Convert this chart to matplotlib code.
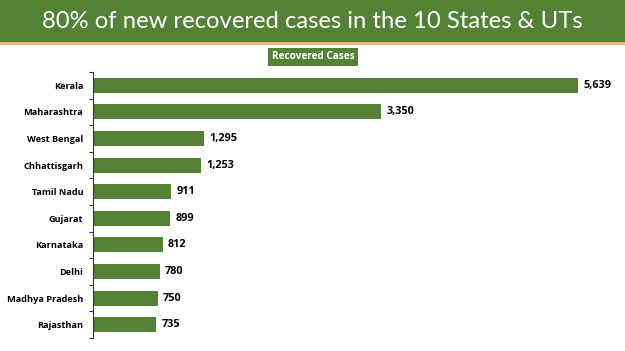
import matplotlib
matplotlib.use("Agg")
import matplotlib.pyplot as plt
from matplotlib.patches import Rectangle

states = ["Kerala", "Maharashtra", "West Bengal", "Chhattisgarh", "Tamil Nadu",
          "Gujarat", "Karnataka", "Delhi", "Madhya Pradesh", "Rajasthan"]
recovered = [5639, 3350, 1295, 1253, 911, 899, 812, 780, 750, 735]
title = "80% of new recovered cases in the 10 States & UTs"
legend_label = "Recovered Cases"

GREEN = "#538135"
W, H = 625, 351
fig = plt.figure(figsize=(W/100, H/100), dpi=100)

# title band
fig.patches.append(Rectangle((0, 1 - 42/H), 1, 42/H, transform=fig.transFigure,
                             facecolor=GREEN, edgecolor="none", zorder=0))
fig.patches.append(Rectangle((0, 1 - 45/H), 1, 3/H, transform=fig.transFigure,
                             facecolor="#F4B183", edgecolor="none", zorder=0))
fig.text(0.5, 1 - 21/H, title, ha="center", va="center", color="white",
         fontsize=17.2, family="Lato")

# legend box
fig.text(313/W, 1 - 56.5/H, legend_label, ha="center", va="center", color="white",
         fontsize=7.2, family="Open Sans", fontweight="bold",
         bbox=dict(boxstyle="square,pad=0.35", facecolor=GREEN, edgecolor="none"))

ax = fig.add_axes([93/W, 1 - 338/H, (605-93)/W, (338-72)/H])
y = list(range(len(states)))
ax.barh(y, recovered, height=0.57, color=GREEN)
ax.set_ylim(len(states) - 0.5, -0.5)
ax.set_xlim(0, 5639 * (605-93) / (578-93))
ax.set_yticks([i - 0.5 for i in range(len(states) + 1)])
ax.set_yticklabels([])
ax.set_yticks(y, minor=True)
ax.set_yticklabels(states, minor=True, fontsize=6.6, family="Open Sans", fontweight="bold")
ax.tick_params(axis="y", which="minor", length=0, pad=7)
ax.tick_params(axis="y", which="major", length=3, width=0.8, color="#333333")
ax.set_xticks([])
for s in ["top", "right", "bottom"]:
    ax.spines[s].set_visible(False)
ax.spines["left"].set_color("#333333")
ax.spines["left"].set_linewidth(0.8)
for yi, v in zip(y, recovered):
    ax.text(v + 60, yi, f"{v:,}", va="center", ha="left", fontsize=7.8,
            family="Open Sans", fontweight="bold", color="black")

fig.savefig("out.png", dpi=100)
